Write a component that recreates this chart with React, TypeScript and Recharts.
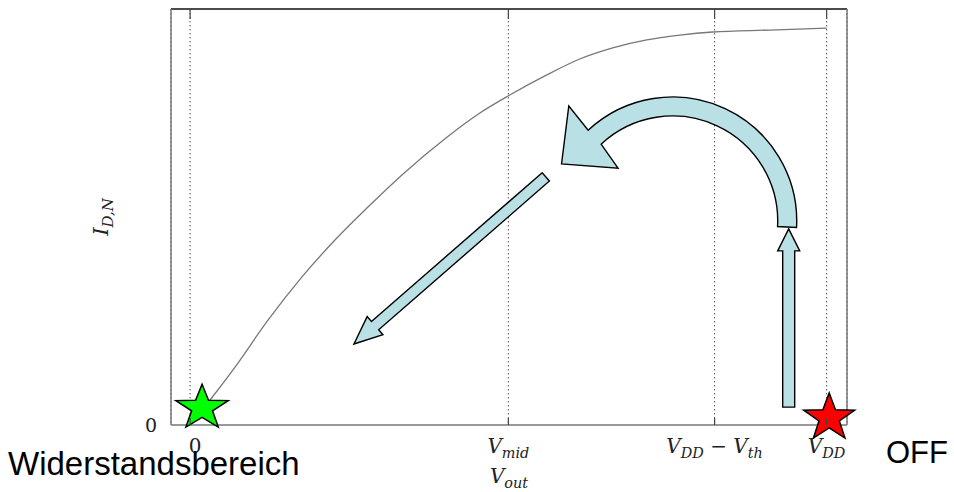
import React from "react";
import {
  LineChart,
  Line,
  XAxis,
  YAxis,
  CartesianGrid,
  ReferenceLine,
  ReferenceDot,
} from "recharts";

// V_out (V_DD = 5) and normalised drain current
const vout = [0, 0.157, 0.353, 0.612, 0.879, 1.138, 1.397, 1.664, 2.017, 2.276, 2.504, 2.802, 3.061, 3.32, 3.587, 3.846, 4.105, 4.553, 5.0];
const idn = [0, 0.063, 0.146, 0.264, 0.373, 0.466, 0.549, 0.63, 0.725, 0.786, 0.83, 0.882, 0.922, 0.95, 0.97, 0.982, 0.99, 0.995, 1.0];

const xTicks = [0, 2.5, 4.12, 5];
const xTickLabels = ["0", "V|mid", "V|DD − V|th", "V|DD"];
const yTicks = [0];

const data = vout.map((v, i) => ({ v, id: idn[i] }));

const ARROW = "#b9e0e4";
const SERIF = "'DejaVu Serif', 'Liberation Serif', serif";

// "V|mid" -> V with subscript mid
function MathText({ x, y, src, size = 20 }: { x: number; y: number; src: string; size?: number }) {
  const parts: React.ReactNode[] = [];
  let lowered = false;
  src.split(" ").forEach((c, i) => {
    const pre = i > 0 ? " " : "";
    const back = lowered ? -5 : 0;
    if (c.includes("|")) {
      const [base, sub] = c.split("|");
      parts.push(
        <tspan key={i + "b"} fontStyle="italic" dy={back}>{pre + base}</tspan>,
        <tspan key={i + "s"} fontStyle="italic" fontSize={size * 0.72} dy={5}>{sub}</tspan>
      );
      lowered = true;
    } else {
      parts.push(<tspan key={i} dy={back}>{pre + c}</tspan>);
      lowered = false;
    }
  });
  return (
    <text x={x} y={y} textAnchor="middle" fontFamily={SERIF} fontSize={size} fill="#222">
      {parts}
    </text>
  );
}

const BottomTick = (props: any) => {
  const { x, y, payload, index } = props;
  const idx = xTicks.indexOf(payload.value);
  return (
    <g>
      <line x1={x} y1={y} x2={x} y2={y - 7} stroke="#444" strokeWidth={1.2} />
      <MathText x={x + (index === 0 ? 5 : 0)} y={y + 28} src={xTickLabels[idx]} />
    </g>
  );
};

const TopTick = (props: any) => {
  const { x, y } = props;
  return <line x1={x} y1={y} x2={x} y2={y + 10} stroke="#444" strokeWidth={1.2} />;
};

const LeftTick = (props: any) => {
  const { x, y, payload } = props;
  return (
    <text x={x - 14} y={y + 7} textAnchor="end" fontFamily={SERIF} fontSize={19} fill="#222">
      {payload.value}
    </text>
  );
};

function blockArrow(x1: number, y1: number, x2: number, y2: number, s: number, h: number, hl: number) {
  const len = Math.hypot(x2 - x1, y2 - y1);
  const ux = (x2 - x1) / len;
  const uy = (y2 - y1) / len;
  const nx = -uy;
  const ny = ux;
  const bx = x2 - ux * hl;
  const by = y2 - uy * hl;
  const pts = [
    [x1 + nx * s, y1 + ny * s],
    [bx + nx * s, by + ny * s],
    [bx + nx * h, by + ny * h],
    [x2, y2],
    [bx - nx * h, by - ny * h],
    [bx - nx * s, by - ny * s],
    [x1 - nx * s, y1 - ny * s],
  ];
  return pts.map((p) => p.join(",")).join(" ");
}

const StraightArrow = (s: number, h: number, hl: number) => (props: any) => {
  const { x1, y1, x2, y2 } = props;
  return (
    <polygon points={blockArrow(x1, y1, x2, y2, s, h, hl)} fill={ARROW} stroke="#000" strokeWidth={1.4} strokeLinejoin="miter" />
  );
};

// curved arrow: segment from arc centre to outer radius point
const CurvedArrow = (props: any) => {
  const { x1: cx, y1: cy, x2 } = props;
  const ro = Math.abs(x2 - cx);
  const k = ro / 124;
  const ri = 105 * k;
  const P = (deg: number, r: number) => {
    const a = (deg * Math.PI) / 180;
    return `${cx + r * Math.cos(a)},${cy - r * Math.sin(a)}`;
  };
  const d = [
    `M${P(-3, ro)}`,
    `A${ro},${ro} 0 0 0 ${P(133, ro)}`,
    `L${P(132.1, 155 * k)}`,
    `L${P(152.8, 125 * k)}`,
    `L${P(136, 76 * k)}`,
    `L${P(133, ri)}`,
    `A${ri},${ri} 0 0 1 ${P(-3, ri)}`,
    "Z",
  ].join(" ");
  return <path d={d} fill={ARROW} stroke="#000" strokeWidth={1.4} />;
};

const Star = (fill: string, R: number, sy: number) => (props: any) => {
  const { cx, cy } = props;
  const pts: string[] = [];
  for (let i = 0; i < 10; i++) {
    const r = i % 2 === 0 ? R : R * 0.4;
    const a = -Math.PI / 2 + (i * Math.PI) / 5;
    pts.push(`${cx + r * Math.cos(a)},${cy + r * Math.sin(a) * sy}`);
  }
  return <polygon points={pts.join(" ")} fill={fill} stroke="#000" strokeWidth={1.5} />;
};

const YLabel = (props: any) => {
  const { viewBox } = props;
  const cy = viewBox.y + viewBox.height / 2;
  const x = 108;
  return (
    <text transform={`translate(${x},${cy}) rotate(-90)`} textAnchor="middle" fontFamily={SERIF} fontSize={21} fill="#222">
      <tspan fontStyle="italic">I</tspan>
      <tspan fontStyle="italic" fontSize={15} dy={5}>D,N</tspan>
    </text>
  );
};

const XLabel = (props: any) => {
  const { viewBox } = props;
  return <MathText x={viewBox.x + viewBox.width / 2} y={483} src="V|out" />;
};

export default function App() {
  return (
    <div style={{ position: "absolute", left: 0, top: 0, width: 954, height: 492, background: "#fff" }}>
      <LineChart width={954} height={492} data={data} margin={{ top: 8, right: 106, bottom: 7, left: 0 }}>
        <CartesianGrid vertical horizontal={false} stroke="#555" strokeDasharray="1.5 2.5" strokeWidth={1} />
        <XAxis
          dataKey="v"
          type="number"
          domain={[-0.15, 5.16]}
          allowDataOverflow
          ticks={xTicks}
          height={60}
          tickSize={0}
          tickMargin={0}
          tickLine={false}
          axisLine={{ stroke: "#777", strokeWidth: 1.5 }}
          tick={<BottomTick />}
          label={{ content: <XLabel /> }}
        />
        <XAxis
          xAxisId="top"
          orientation="top"
          dataKey="v"
          type="number"
          domain={[-0.15, 5.16]}
          allowDataOverflow
          ticks={xTicks}
          height={1}
          tickSize={0}
          tickMargin={0}
          tickLine={false}
          axisLine={{ stroke: "#111", strokeWidth: 1.5 }}
          tick={<TopTick />}
        />
        <YAxis
          type="number"
          domain={[0, 1.048]}
          allowDataOverflow
          ticks={yTicks}
          width={171}
          tickSize={0}
          tickMargin={0}
          tickLine={false}
          axisLine={{ stroke: "#777", strokeWidth: 1.5 }}
          tick={<LeftTick />}
          label={{ content: <YLabel /> }}
        />
        <YAxis
          yAxisId="right"
          orientation="right"
          type="number"
          domain={[0, 1.048]}
          width={1}
          tick={false}
          tickLine={false}
          axisLine={{ stroke: "#777", strokeWidth: 1.5 }}
        />
        <Line
          type="monotone"
          dataKey="id"
          stroke="#777"
          strokeWidth={1.3}
          dot={false}
          isAnimationActive={false}
        />
        <ReferenceLine
          segment={[{ x: 4.702, y: 0.045 }, { x: 4.702, y: 0.494 }]}
          shape={StraightArrow(6, 11, 22)}
        />
        <ReferenceLine
          segment={[{ x: 3.791, y: 0.514 }, { x: 4.765, y: 0.514 }]}
          shape={CurvedArrow}
        />
        <ReferenceLine
          segment={[{ x: 2.794, y: 0.625 }, { x: 1.287, y: 0.204 }]}
          shape={StraightArrow(5.5, 12, 28)}
        />
        <ReferenceDot x={0.094} y={0.043} r={1} shape={Star("#00ff00", 27.5, 0.86)} />
        <ReferenceDot x={5.02} y={0.018} r={1} shape={Star("#ff0000", 26.8, 0.93)} />
      </LineChart>
      <svg width={954} height={492} style={{ position: "absolute", left: 0, top: 0, pointerEvents: "none" }}>
        <text x={8} y={475} fontFamily="'Liberation Sans', Arial, sans-serif" fontSize={33} fill="#000">
          Widerstandsbereich
        </text>
        <text x={886} y={463} fontFamily="'Liberation Sans', Arial, sans-serif" fontSize={31} fill="#000">
          OFF
        </text>
      </svg>
    </div>
  );
}
